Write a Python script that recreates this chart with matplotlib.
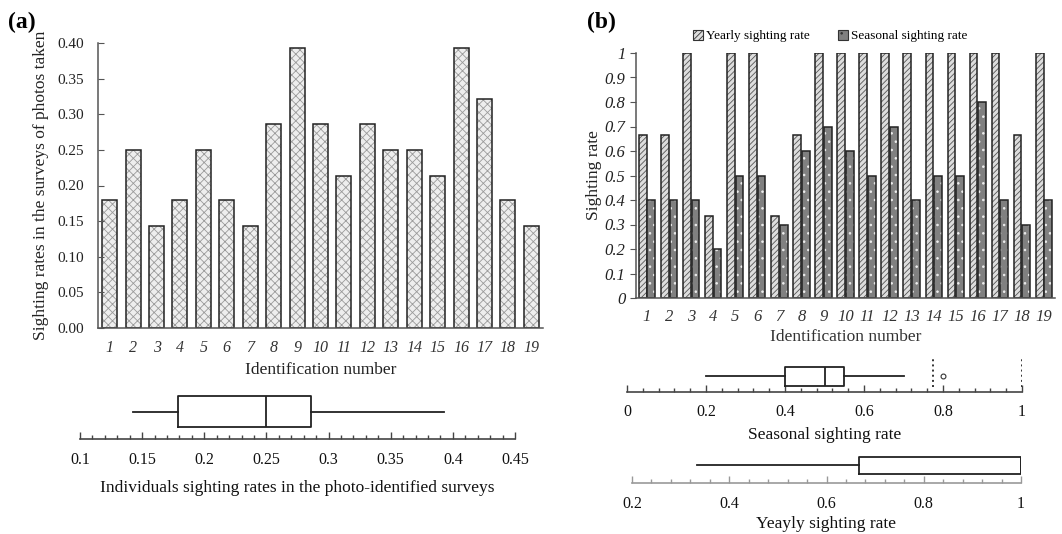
import matplotlib
matplotlib.use('Agg')
import matplotlib.pyplot as plt
import numpy as np
from matplotlib.patches import Patch
from matplotlib.ticker import MultipleLocator

plt.rcParams['font.family'] = ['Liberation Serif', 'DejaVu Serif']
plt.rcParams['hatch.linewidth'] = 0.6

# data
ids = list(range(1, 20))
photo_rate = [0.179, 0.25, 0.143, 0.179, 0.25, 0.179, 0.143, 0.286, 0.393, 0.286,
              0.214, 0.286, 0.25, 0.25, 0.214, 0.393, 0.321, 0.179, 0.143]
yearly = [0.667, 0.667, 1, 0.333, 1, 1, 0.333, 0.667, 1, 1,
          1, 1, 1, 1, 1, 1, 1, 0.667, 1]
seasonal = [0.4, 0.4, 0.4, 0.2, 0.5, 0.5, 0.3, 0.6, 0.7, 0.6,
            0.5, 0.7, 0.4, 0.5, 0.5, 0.8, 0.4, 0.3, 0.4]

W, H = 1062, 534
fig = plt.figure(figsize=(W / 100, H / 100), dpi=100)


def px_axes(x0, x1, ytop, ybot):
    return fig.add_axes([x0 / W, 1 - ybot / H, (x1 - x0) / W, (ybot - ytop) / H])


def hatched_bar(ax, x, h, width, face, hatch, hcolor):
    ax.bar(x, h, width, color=face, hatch=hatch, edgecolor=hcolor, linewidth=0)
    ax.bar(x, h, width, fill=False, edgecolor='#222222', linewidth=1.1)


def box_axis(ax, data, lo, hi, major, minor, pos, wid, fmt=None):
    ax.boxplot(data, vert=False, positions=[pos], widths=wid, whis=1.5,
               patch_artist=False,
               boxprops=dict(color='#222222', linewidth=1.3),
               medianprops=dict(color='#222222', linewidth=1.3),
               whiskerprops=dict(color='#222222', linewidth=1.3),
               capprops=dict(linewidth=0),
               flierprops=dict(marker='o', markersize=3.5, markerfacecolor='white',
                               markeredgecolor='#333333', markeredgewidth=0.8))
    ax.set_xlim(lo, hi)
    ax.set_ylim(0, 1)
    for s in ['top', 'left', 'right']:
        ax.spines[s].set_visible(False)
    ax.spines['bottom'].set_color('#444444')
    ax.spines['bottom'].set_linewidth(1.2)
    ax.set_yticks([])
    ax.xaxis.set_major_locator(MultipleLocator(major))
    ax.xaxis.set_minor_locator(MultipleLocator(minor))
    ax.tick_params(axis='x', which='major', direction='in', length=5, width=1, colors='#444444',
                   labelcolor='#111111', labelsize=11.5, pad=9)
    ax.tick_params(axis='x', which='minor', direction='in', length=3, width=1, colors='#444444')
    if fmt:
        ax.set_xticklabels([fmt(v) for v in ax.get_xticks()])
    ax.patch.set_alpha(0)


def g(v):
    return ('%g' % round(v, 3))


# ---------- panel (a) bars ----------
axa = px_axes(98, 543, 43, 328)
hatched_bar(axa, ids, photo_rate, 0.64, '#eeeeee', 'xxxx', '#9a9a9a')
axa.set_xlim(0.5, 19.5)
axa.set_ylim(0, 0.40)
axa.set_yticks(np.arange(0, 0.401, 0.05))
axa.set_yticklabels(['%.2f' % v for v in np.arange(0, 0.401, 0.05)])
axa.set_xticks(ids)
axa.set_xticklabels([str(i) for i in ids], style='italic')
axa.spines['top'].set_visible(False)
axa.spines['right'].set_visible(False)
for s in ['left', 'bottom']:
    axa.spines[s].set_color('#555555')
    axa.spines[s].set_linewidth(1.1)
axa.tick_params(axis='y', direction='in', length=4, colors='#555555', labelcolor='#222222',
                labelsize=11, pad=10)
axa.tick_params(axis='x', length=0, labelcolor='#333333', labelsize=11.5, pad=9)
axa.set_xlabel('Identification number', fontsize=12.5, color='#222222', labelpad=4)
axa.set_ylabel('Sighting rates in the surveys of photos taken', fontsize=12.5,
               color='#222222', labelpad=6)
fig.text(8 / W, 1 - 22 / H, '(a)', fontsize=17, fontweight='bold', va='center', ha='left')

# ---------- panel (a) boxplot ----------
axab = px_axes(80, 515, 390, 439)
box_axis(axab, photo_rate, 0.1, 0.45, 0.05, 0.01, 0.56, 0.63, g)
axab.set_xlabel('Individuals sighting rates in the photo-identified surveys',
                fontsize=12.5, color='#111111', labelpad=9)

# ---------- panel (b) bars ----------
axb = px_axes(636, 1055, 53, 298)
x = np.array(ids)
bw = 0.35
hatched_bar(axb, x - bw / 2 - 0.02, yearly, bw, '#dddddd', '//////', '#555555')
hatched_bar(axb, x + bw / 2 + 0.02, seasonal, bw, '#808080', '..', '#eeeeee')
axb.set_xlim(0.5, 19.5)
axb.set_ylim(0, 1)
yt = np.round(np.arange(0, 1.01, 0.1), 1)
axb.set_yticks(yt)
axb.set_yticklabels([g(v) for v in yt], style='italic')
axb.set_xticks(ids)
axb.set_xticklabels([str(i) for i in ids], style='italic')
axb.spines['top'].set_visible(False)
axb.spines['right'].set_visible(False)
for s in ['left', 'bottom']:
    axb.spines[s].set_color('#555555')
    axb.spines[s].set_linewidth(1.1)
axb.tick_params(axis='y', direction='out', length=4, colors='#555555', labelcolor='#222222',
                labelsize=12)
axb.tick_params(axis='x', length=0, labelcolor='#333333', labelsize=12, pad=8)
axb.set_xlabel('Identification number', fontsize=12.5, color='#333333', labelpad=3)
axb.set_ylabel('Sighting rate', fontsize=12.5, color='#222222', labelpad=2)
fig.text(587 / W, 1 - 22 / H, '(b)', fontsize=17, fontweight='bold', va='center', ha='left')

handles = [Patch(facecolor='#dddddd', hatch='//////', edgecolor='#333333', linewidth=0.8),
           Patch(facecolor='#808080', hatch='..', edgecolor='#333333', linewidth=0.8)]
fig.legend(handles, ['Yearly sighting rate', 'Seasonal sighting rate'],
           loc='center', bbox_to_anchor=(830 / W, 1 - 36 / H), ncol=2, frameon=False,
           fontsize=9.5, handlelength=0.8, handleheight=0.8, handletextpad=0.2,
           columnspacing=2.1)

# ---------- seasonal boxplot ----------
axs = px_axes(627, 1022, 352, 392)
box_axis(axs, seasonal, 0, 1, 0.2, 0.04, 0.39, 0.475, g)
q1, q3 = np.percentile(seasonal, [25, 75])
fence = q3 + 1.5 * (q3 - q1)
axs.vlines([fence, max(yearly)], 0.12, 0.88, colors='#333333', linestyles=':', linewidth=1.4)
axs.set_xlabel('Seasonal sighting rate', fontsize=12.5, color='#111111', labelpad=5)

# ---------- yearly boxplot ----------
axy = px_axes(632, 1021, 443, 483)
box_axis(axy, yearly, 0.2, 1.0, 0.2, 0.04, 0.44, 0.425, g)
axy.spines['bottom'].set_color('#999999')
axy.tick_params(axis='x', which='both', colors='#999999', labelcolor='#111111')
axy.set_xlabel('Yeayly sighting rate', fontsize=12.5, color='#111111', labelpad=3)

fig.savefig('out.png', dpi=100)
